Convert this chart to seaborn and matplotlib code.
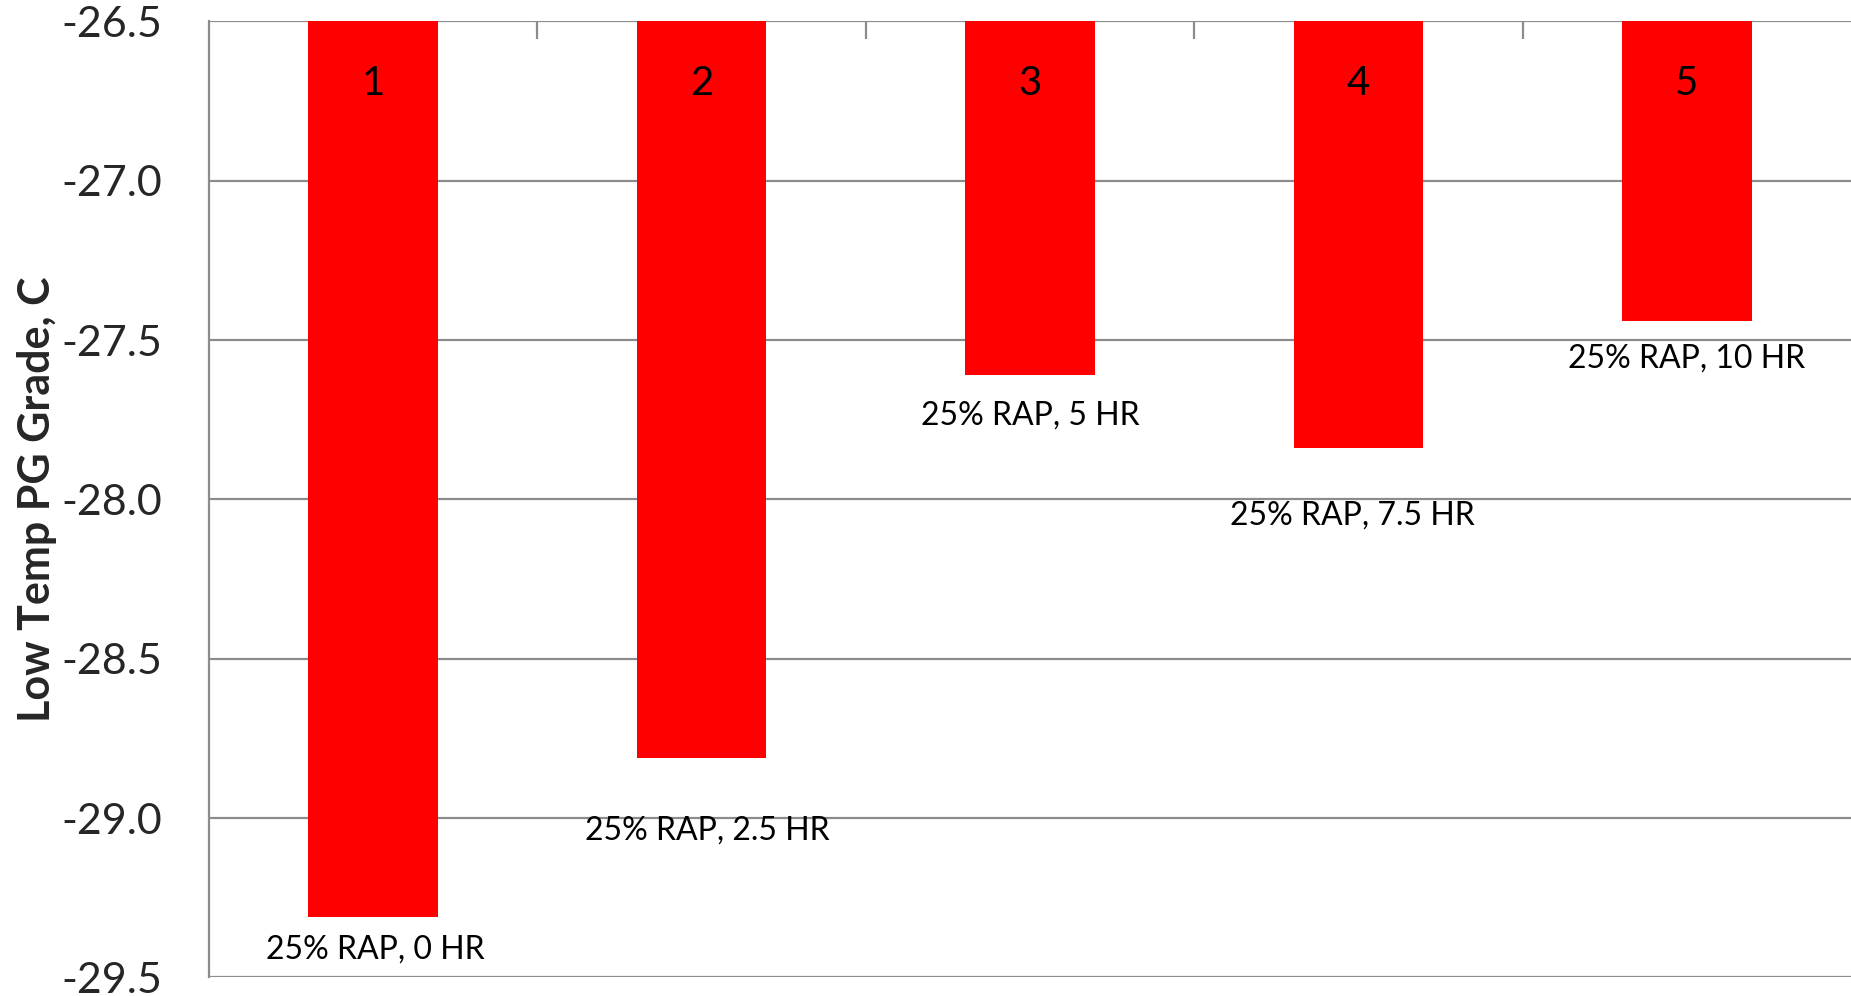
import matplotlib
matplotlib.use("Agg")
import matplotlib.pyplot as plt
import seaborn as sns
import pandas as pd

bar_ids = ["1", "2", "3", "4", "5"]
values = [-29.31, -28.81, -27.61, -27.84, -27.44]
labels = ["25% RAP, 0 HR", "25% RAP, 2.5 HR", "25% RAP, 5 HR",
          "25% RAP, 7.5 HR", "25% RAP, 10 HR"]
y_ticks = [-26.5, -27.0, -27.5, -28.0, -28.5, -29.0, -29.5]
y_title = "Low Temp PG Grade, C"

sns.set_theme(style="white")
plt.rcParams['font.family'] = ['Lato', 'DejaVu Sans']

grey = "#8c8c8c"
fig = plt.figure(figsize=(18.51, 9.96), dpi=100)
ax = fig.add_axes([0.1129, 0.0186, 0.8871, 0.9600])

df = pd.DataFrame({"bar": bar_ids, "value": values})
sns.barplot(data=df, x="bar", y="value", color="#FF0000", saturation=1,
            width=0.395, ax=ax, linewidth=0)

ax.set_ylim(-29.5, -26.5)
ax.set_xlim(-0.5, 4.5)
ax.set_yticks(y_ticks)
ax.set_yticklabels([f"{v:.1f}" for v in y_ticks], fontsize=31)
ax.yaxis.grid(True, color=grey, linewidth=1.6)
ax.set_axisbelow(True)
ax.tick_params(axis="y", length=14, width=1.6, color=grey, pad=20)

ax.xaxis.set_ticks_position("top")
ax.set_xticks([0.5, 1.5, 2.5, 3.5])
ax.set_xticklabels([])
ax.tick_params(axis="x", direction="in", length=13, width=1.6, color=grey)
ax.set_xlabel("")
ax.set_ylabel(y_title, fontsize=31, fontweight="bold", labelpad=3)

for s in ["right", "bottom", "top"]:
    ax.spines[s].set_visible(False)
ax.spines["left"].set_color(grey)
ax.spines["left"].set_linewidth(1.6)

dx = [2, 6, 0, -6, 0]
dy = [-33, -73, -40, -67, -38]
for i, (v, lab) in enumerate(zip(values, labels)):
    ax.annotate(bar_ids[i], xy=(i, -26.5), xytext=(0, -62), textcoords="offset pixels",
                ha="center", va="center", fontsize=29, color="black")
    ax.annotate(lab, xy=(i, v), xytext=(dx[i], dy[i]), textcoords="offset pixels",
                ha="center", va="center", fontsize=23, color="black")

fig.savefig("out.png", dpi=100)
